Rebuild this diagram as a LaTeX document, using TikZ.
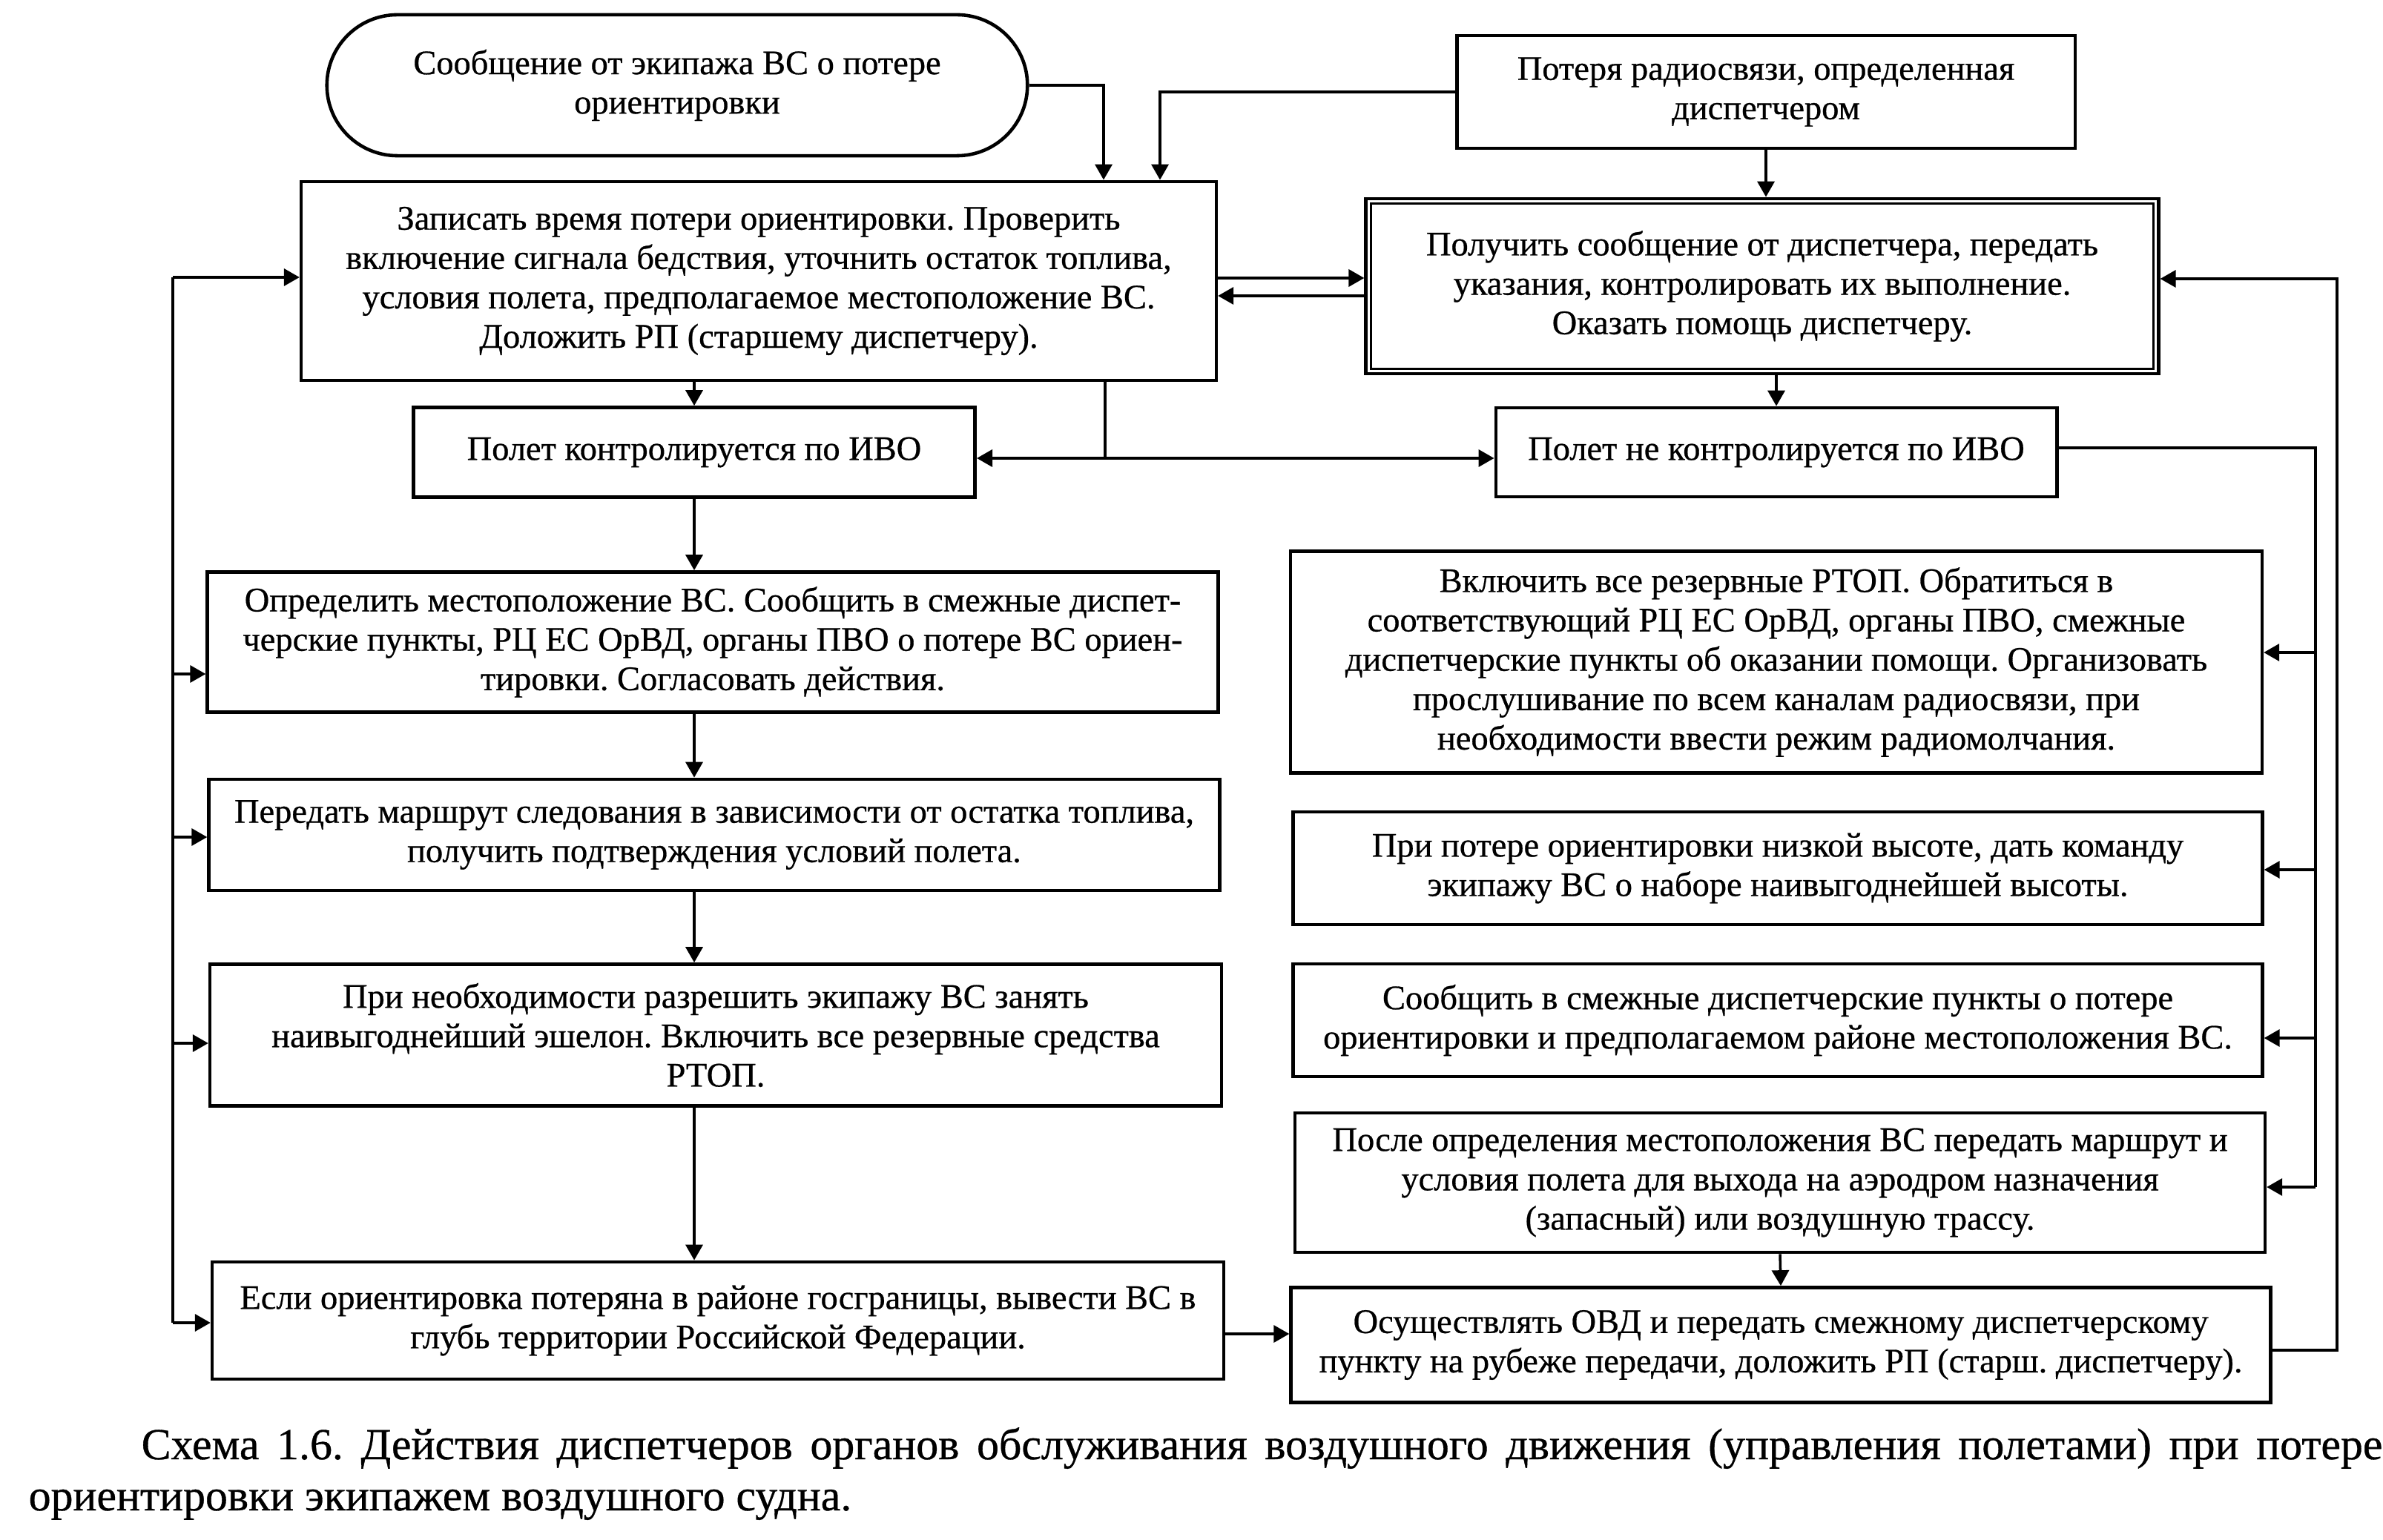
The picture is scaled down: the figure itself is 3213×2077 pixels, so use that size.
\documentclass[tikz,border=0pt]{standalone}
\usepackage{fontspec}
\setmainfont{Liberation Serif}[FakeBold=0.6]
\usetikzlibrary{arrows.meta,calc}
\frenchspacing
\begin{document}
\begin{tikzpicture}[x=0.01cm,y=-0.01cm,
  box/.style={draw, line width=1.3pt, inner sep=0pt, align=center, font=\fontsize{13.2}{15.1}\selectfont\addfontfeature{FakeBold=0.6}},
  conn/.style={line width=1pt},
  capt/.style={anchor=base west, inner sep=0pt, font=\fontsize{17}{20}\selectfont\addfontfeature{FakeBold=0.6}},
  >={Triangle[length=0.21cm,width=0.23cm]}]
\useasboundingbox (0,0) rectangle (3213,2077);

\node[box, rounded corners=0.95cm, minimum width=9.44cm, minimum height=1.9cm] (O) at (913,115) {Сообщение от экипажа ВС о потере\\ориентировки};
\node[box, minimum width=8.33cm, minimum height=1.52cm] (P) at (2381,124) {Потеря радиосвязи, определенная\\диспетчером};
\node[box, minimum width=12.33cm, minimum height=2.68cm] (A) at (1023,379) {Записать время потери ориентировки. Проверить\\включение сигнала бедствия, уточнить остаток топлива,\\условия полета, предполагаемое местоположение ВС.\\Доложить РП (старшему диспетчеру).};
\node[box, minimum width=10.68cm, minimum height=2.36cm] (B) at (2376,386) {Получить сообщение от диспетчера, передать\\указания, контролировать их выполнение.\\Оказать помощь диспетчеру.};
\draw[line width=1pt] ($(B.north west)+(9,9)$) rectangle ($(B.south east)+(-9,-9)$);
\node[box, minimum width=7.57cm, minimum height=1.21cm] (C) at (936,610) {Полет контролируется по ИВО};
\node[box, minimum width=7.56cm, minimum height=1.20cm] (D) at (2395,610) {Полет не контролируется по ИВО};
\node[box, minimum width=13.62cm, minimum height=1.89cm] (E) at (961,866) {Определить местоположение ВС. Сообщить в смежные диспет-\\черские пункты, РЦ ЕС ОрВД, органы ПВО о потере ВС ориен-\\тировки. Согласовать действия.};
\node[box, minimum width=13.62cm, minimum height=1.50cm] (F) at (963,1126) {Передать маршрут следования в зависимости от остатка топлива,\\получить подтверждения условий полета.};
\node[box, minimum width=13.63cm, minimum height=1.91cm] (G) at (965,1396) {При необходимости разрешить экипажу ВС занять\\наивыгоднейший эшелон. Включить все резервные средства\\РТОП.};
\node[box, minimum width=13.63cm, minimum height=1.58cm] (H) at (968,1781) {Если ориентировка потеряна в районе госграницы, вывести ВС в\\глубь территории Российской Федерации.};
\node[box, minimum width=13.09cm, minimum height=2.99cm] (R1) at (2395,893) {Включить все резервные РТОП. Обратиться в\\соответствующий РЦ ЕС ОрВД, органы ПВО, смежные\\диспетчерские пункты об оказании помощи. Организовать\\прослушивание по всем каналам радиосвязи, при\\необходимости ввести режим радиомолчания.};
\node[box, minimum width=13.06cm, minimum height=1.52cm] (R2) at (2397,1171) {При потере ориентировки низкой высоте, дать команду\\экипажу ВС о наборе наивыгоднейшей высоты.};
\node[box, minimum width=13.06cm, minimum height=1.52cm] (R3) at (2397,1376) {Сообщить в смежные диспетчерские пункты о потере\\ориентировки и предполагаемом районе местоположения ВС.};
\node[box, minimum width=13.07cm, minimum height=1.88cm] (R4) at (2400,1595) {После определения местоположения ВС передать маршрут и\\условия полета для выхода на аэродром назначения\\(запасный) или воздушную трассу.};
\node[box, minimum width=13.20cm, minimum height=1.55cm] (R5) at (2401,1814) {Осуществлять ОВД и передать смежному диспетчерскому\\пункту на рубеже передачи, доложить РП (старш. диспетчеру).};

\node[capt] (cap1) at (190,1968) {\makebox[30.2cm][s]{Схема 1.6. Действия диспетчеров органов обслуживания воздушного движения (управления полетами) при потере}};
\node[capt] (cap2) at (38,2037) {ориентировки экипажем воздушного судна.};

% helper coordinates
\coordinate (tA1) at (1488,0);
\coordinate (tA2) at (1564,0);
\coordinate (yAB1) at (0,375);
\coordinate (yAB2) at (0,399);
\coordinate (j) at (1490,618);
\coordinate (lA) at (233,374);
\coordinate (lE) at (233,909);
\coordinate (lF) at (233,1129);
\coordinate (lG) at (233,1407);
\coordinate (lH) at (233,1784);
\coordinate (rD) at (3122,604);
\coordinate (r1) at (3122,880);
\coordinate (r2) at (3122,1173);
\coordinate (r3) at (3122,1400);
\coordinate (r4) at (3122,1601);
\coordinate (oB) at (3151,376);
\coordinate (oR) at (3151,1821);
\coordinate (yHR) at (0,1799);

% top connectors
\draw[conn,->] (O.east) -| (A.north -| tA1);
\draw[conn,->] (P.west) -| (A.north -| tA2);
\draw[conn,->] (P.south) -- (P.south |- B.north);
\draw[conn,->] (A.east |- yAB1) -- (B.west |- yAB1);
\draw[conn,->] (B.west |- yAB2) -- (A.east |- yAB2);
\draw[conn,->] (A.south -| C.north) -- (C.north);
\draw[conn] (A.south -| j) -- (j);
\draw[conn,->] (j) -- (j -| C.east);
\draw[conn,->] (j) -- (j -| D.west);
\draw[conn,->] (B.south -| D.north) -- (D.north);

% left column
\draw[conn,->] (C.south) -- (C.south |- E.north);
\draw[conn,->] (E.south -| C.south) -- (F.north -| C.south);
\draw[conn,->] (F.south -| C.south) -- (G.north -| C.south);
\draw[conn,->] (G.south -| C.south) -- (H.north -| C.south);

% left bus
\draw[conn] (lA) -- (lH);
\draw[conn,->] (lA) -- (lA -| A.west);
\draw[conn,->] (lE) -- (lE -| E.west);
\draw[conn,->] (lF) -- (lF -| F.west);
\draw[conn,->] (lG) -- (lG -| G.west);
\draw[conn,->] (lH) -- (lH -| H.west);

% right bus
\draw[conn] (D.east |- rD) -- (rD) -- (r4);
\draw[conn,->] (r1) -- (r1 -| R1.east);
\draw[conn,->] (r2) -- (r2 -| R2.east);
\draw[conn,->] (r3) -- (r3 -| R3.east);
\draw[conn,->] (r4) -- (r4 -| R4.east);

% outer right loop
\draw[conn,->] (R5.east |- oR) -- (oR) -- (oB) -- (oB -| B.east);

% bottom
\draw[conn,->] (H.east |- yHR) -- (R5.west |- yHR);
\draw[conn,->] (R4.south) -- (R5.north);
\end{tikzpicture}
\end{document}
